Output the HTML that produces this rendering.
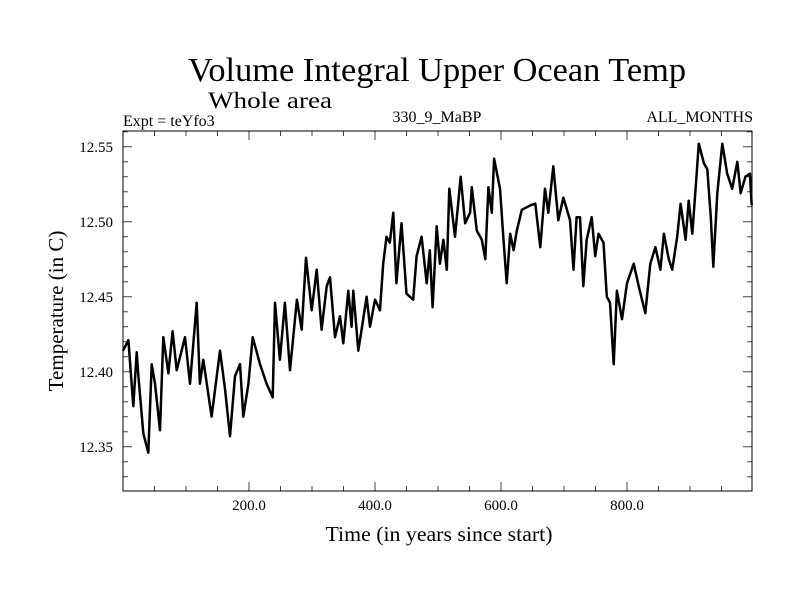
<!DOCTYPE html>
<html><head><meta charset="utf-8"><style>
html,body{margin:0;padding:0;background:#fff;width:800px;height:600px;overflow:hidden}
svg text{font-family:"Liberation Serif",serif;fill:#000}
</style></head><body>
<svg id="chart" width="800" height="600" xmlns="http://www.w3.org/2000/svg">
<text x="437" y="81" font-size="34" text-anchor="middle" textLength="498" lengthAdjust="spacingAndGlyphs">Volume Integral Upper Ocean Temp</text>
<text x="208" y="108" font-size="23" textLength="124" lengthAdjust="spacingAndGlyphs">Whole area</text>
<text x="123" y="126" font-size="16">Expt = teYfo3</text>
<text x="437" y="122" font-size="16" text-anchor="middle">330_9_MaBP</text>
<text x="753" y="122" font-size="16" text-anchor="end">ALL_MONTHS</text>
<text x="439" y="541" font-size="21" text-anchor="middle" textLength="227" lengthAdjust="spacingAndGlyphs">Time (in years since start)</text>
<text x="0" y="0" font-size="21" text-anchor="middle" transform="translate(63,311) rotate(-90)">Temperature (in C)</text>
<g id="axes"></g>
<rect x="123" y="131" width="629" height="360" fill="none" stroke="#000" stroke-width="1"/>
<path id="series" fill="none" stroke="#000" stroke-width="2.5" stroke-linejoin="round"/>
</svg>
<script>
const years=[0,8.5,16.4,21.7,24.4,32.3,40.2,45.5,50.8,58.7,64,72,78.8,85.2,98.4,106.3,117,122,127.5,140.7,154,162,169.8,177.8,185.7,191,199,205.8,217.5,228,237.6,241.3,249,257,265,276,283.6,290.5,299.5,307.4,315.3,323.3,328.6,336.5,344.4,349.7,357.6,362.9,365.5,373.5,378.8,386.7,392,400,408,413,418.3,423.5,429,434,442,450,460.6,466,474,482,487,491.5,498,503,508.5,514,518,527,536,543,551,553.6,561.6,569.5,575,580,585.4,589,598.4,604,609,614.6,620,625,633,646.6,654.5,662.4,669.8,675,683,691,699,709.5,715,720,725.4,730.7,736,744,749.5,754.8,762.7,768,773,778.8,784,792,800,810.6,818.5,829,837,845,853,858.5,866.4,871.7,879.6,885,893,898,903.7,909,914,922,927.5,933,937,943.4,951.3,959,967,975,980.4,988,995,998];
const temps=[12.414,12.421,12.377,12.413,12.397,12.359,12.346,12.405,12.392,12.361,12.423,12.399,12.427,12.401,12.423,12.392,12.446,12.392,12.408,12.370,12.414,12.388,12.357,12.397,12.405,12.370,12.392,12.423,12.405,12.392,12.383,12.446,12.408,12.446,12.401,12.448,12.428,12.476,12.441,12.468,12.428,12.457,12.463,12.423,12.437,12.419,12.454,12.430,12.454,12.414,12.428,12.450,12.430,12.448,12.441,12.472,12.490,12.486,12.506,12.459,12.499,12.452,12.448,12.477,12.490,12.459,12.481,12.443,12.497,12.472,12.488,12.468,12.522,12.490,12.530,12.499,12.506,12.523,12.494,12.488,12.475,12.523,12.506,12.542,12.522,12.488,12.459,12.492,12.481,12.494,12.508,12.511,12.512,12.483,12.522,12.506,12.537,12.501,12.516,12.501,12.468,12.503,12.503,12.457,12.488,12.503,12.477,12.492,12.486,12.450,12.446,12.405,12.454,12.435,12.459,12.472,12.457,12.439,12.472,12.483,12.468,12.492,12.475,12.468,12.490,12.512,12.488,12.514,12.492,12.523,12.552,12.539,12.535,12.503,12.470,12.519,12.552,12.532,12.522,12.540,12.519,12.530,12.532,12.511];
const xTickLabels=["200.0","400.0","600.0","800.0"];
const xTickValues=[200,400,600,800];
const yTickLabels=["12.35","12.40","12.45","12.50","12.55"];
const yTickValues=[12.35,12.40,12.45,12.50,12.55];

const L=123,R=752,T=131,B=491;
const X0=0,X1=998.4,Y0=12.3205,Y1=12.5605;
function xs(v){return L+(v-X0)/(X1-X0)*(R-L);}
function ys(v){return B-(v-Y0)/(Y1-Y0)*(B-T);}
const NS="http://www.w3.org/2000/svg";
const axes=document.getElementById('axes');
function line(x1,y1,x2,y2,name){const l=document.createElementNS(NS,'line');
l.setAttribute('x1',x1);l.setAttribute('y1',y1);l.setAttribute('x2',x2);l.setAttribute('y2',y2);
l.setAttribute('stroke','#444');l.setAttribute('stroke-width','1');


axes.appendChild(l);}
for(let v=50;v<X1;v+=50){const x=xs(v);const len=(v%200===0)?9:5;
line(x,B,x,B-len,'x-tick');line(x,T,x,T+len,'x-tick-top');}
for(let k=33;k<=56;k++){const v=k/100;const y=ys(12+v);const len=(k%5===0)?9:5;
line(L,y,L+len,y,'y-tick');line(R,y,R-len,y,'y-tick-right');}
xTickValues.forEach((v,i)=>{const t=document.createElementNS(NS,'text');
t.setAttribute('x',xs(v));t.setAttribute('y',B+19);t.setAttribute('font-size','15');t.setAttribute('text-anchor','middle');
t.textContent=xTickLabels[i];


axes.appendChild(t);});
yTickValues.forEach((v,i)=>{const t=document.createElementNS(NS,'text');
t.setAttribute('x',113);t.setAttribute('y',ys(v)+5);t.setAttribute('font-size','15');t.setAttribute('text-anchor','end');
t.textContent=yTickLabels[i];


axes.appendChild(t);});
let d='';
years.forEach((yr,i)=>{d+=(i?'L':'M')+xs(yr).toFixed(1)+','+ys(temps[i]).toFixed(1);});
document.getElementById('series').setAttribute('d',d);
</script>
</body></html>
